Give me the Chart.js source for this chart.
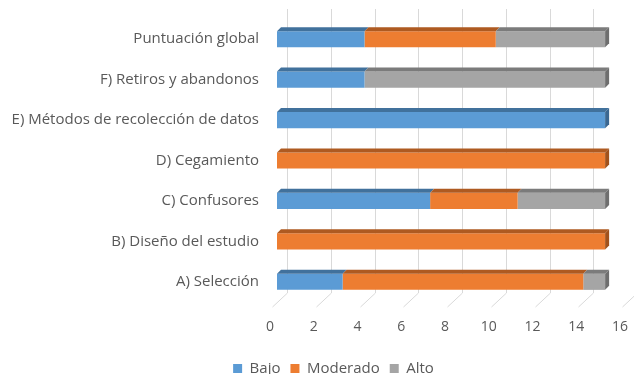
<!DOCTYPE html>
<html>
<head>
<meta charset="utf-8">
<script src="https://cdn.jsdelivr.net/npm/chart.js@4"></script>
<style>
    html, body { margin: 0; padding: 0; background: #fff; overflow: hidden; }
    #wrap { width: 634px; height: 374px; overflow: hidden; }
</style>
</head>
<body>
<div id="wrap"><canvas id="riskChart" width="634" height="386"></canvas></div>
<script>
const categories = [
    'Puntuación global',
    'F) Retiros y abandonos',
    'E) Métodos de recolección de datos',
    'D) Cegamiento',
    'C) Confusores',
    'B) Diseño del estudio',
    'A) Selección'
];
const bajo = [4, 4, 15, 0, 7, 0, 3];
const moderado = [6, 0, 0, 15, 4, 15, 11];
const alto = [5, 11, 0, 0, 4, 0, 1];
const seriesNames = ['Bajo', 'Moderado', 'Alto'];
const xTicks = [0, 2, 4, 6, 8, 10, 12, 14, 16];

const colors = ['#5B9BD5', '#ED7D31', '#A5A5A5'];
const topColors = ['#41719C', '#AE5A21', '#7B7B7B'];
const sideColors = ['#3B6791', '#A0521D', '#6E6E6E'];
const depth = 4;
const plotBottom = 302; // where the bars' floor ends, in canvas px
const legendShift = 20; // legend sits a bit right of the canvas centre

// back-wall grid lines with a slanted floor part, like the 3D Excel chart
const gridPlugin = {
    id: 'grid3d',
    afterLayout(chart) {
        if (chart.legend) {
            chart.legend.left += legendShift;
            chart.legend.right += legendShift;
        }
    },
    beforeDatasetsDraw(chart) {
        const ctx = chart.ctx;
        const area = chart.chartArea;
        const xs = chart.scales.x;
        ctx.save();
        ctx.strokeStyle = '#D9D9D9';
        ctx.lineWidth = 1;
        xTicks.forEach(v => {
            let x = Math.round(xs.getPixelForValue(v)) + 10.5;
            ctx.beginPath();
            ctx.moveTo(x, area.top - 10);
            ctx.lineTo(x, area.bottom - 9);
            ctx.lineTo(x - 15, area.bottom + 5);
            ctx.stroke();
        });
        ctx.restore();
    }
};

// top face and right side face of each bar
const barPlugin = {
    id: 'bars3d',
    afterDatasetsDraw(chart) {
        const ctx = chart.ctx;
        ctx.save();
        chart.data.datasets.forEach((ds, di) => {
            const meta = chart.getDatasetMeta(di);
            meta.data.forEach((bar, i) => {
                if (!ds.data[i]) return;
                const x0 = bar.base, x1 = bar.x;
                const top = bar.y - bar.height / 2;
                const bottom = bar.y + bar.height / 2;
                ctx.fillStyle = topColors[di];
                ctx.beginPath();
                ctx.moveTo(x0, top);
                ctx.lineTo(x0 + depth, top - depth);
                ctx.lineTo(x1 + depth, top - depth);
                ctx.lineTo(x1, top);
                ctx.closePath();
                ctx.fill();

                // side face only on the last non-empty segment
                let isLast = true;
                for (let k = di + 1; k < chart.data.datasets.length; k++) {
                    if (chart.data.datasets[k].data[i]) isLast = false;
                }
                if (isLast) {
                    ctx.fillStyle = sideColors[di];
                    ctx.beginPath();
                    ctx.moveTo(x1, top);
                    ctx.lineTo(x1 + depth, top - depth);
                    ctx.lineTo(x1 + depth, bottom - depth);
                    ctx.lineTo(x1, bottom);
                    ctx.closePath();
                    ctx.fill();
                }
            });
        });
        ctx.restore();
    }
};

const data = {
    labels: categories,
    datasets: [bajo, moderado, alto].map((values, i) => ({
        label: seriesNames[i],
        data: values,
        backgroundColor: colors[i],
        borderWidth: 0,
        barPercentage: 0.4,
        categoryPercentage: 1
    }))
};

const config = {
    type: 'bar',
    data: data,
    options: {
        indexAxis: 'y',
        responsive: false,
        animation: false,
        layout: { padding: { top: 17, right: 7, left: 0, bottom: 0 } },
        scales: {
            x: {
                stacked: true,
                min: 0,
                max: 16,
                afterBuildTicks: axis => { axis.ticks = xTicks.map(v => ({ value: v })); },
                afterFit: axis => {
                    const legendH = axis.chart.legend ? axis.chart.legend.height : 0;
                    axis.height = axis.chart.height - legendH - plotBottom;
                    axis.paddingLeft = 0;
                    axis.paddingRight = 0;
                },
                grid: { display: false },
                border: { display: false },
                ticks: {
                    color: '#595959',
                    font: { family: 'Open Sans', size: 14 },
                    labelOffset: -7,
                    padding: 9
                }
            },
            y: {
                stacked: true,
                afterFit: axis => { axis.width = 277; },
                grid: { display: false },
                border: { display: false },
                ticks: {
                    color: '#595959',
                    font: { family: 'Open Sans', size: 15 },
                    padding: 10
                }
            }
        },
        plugins: {
            legend: {
                position: 'bottom',
                labels: {
                    color: '#595959',
                    font: { family: 'Open Sans', size: 15 },
                    boxWidth: 9,
                    boxHeight: 9,
                    padding: 10
                }
            },
            tooltip: { enabled: false }
        }
    },
    plugins: [gridPlugin, barPlugin]
};

try {
    const riskChart = new Chart(document.getElementById('riskChart'), config);
}
catch (e) {
    document.body.textContent = 'Error draw chart';
}
</script>
</body>
</html>
